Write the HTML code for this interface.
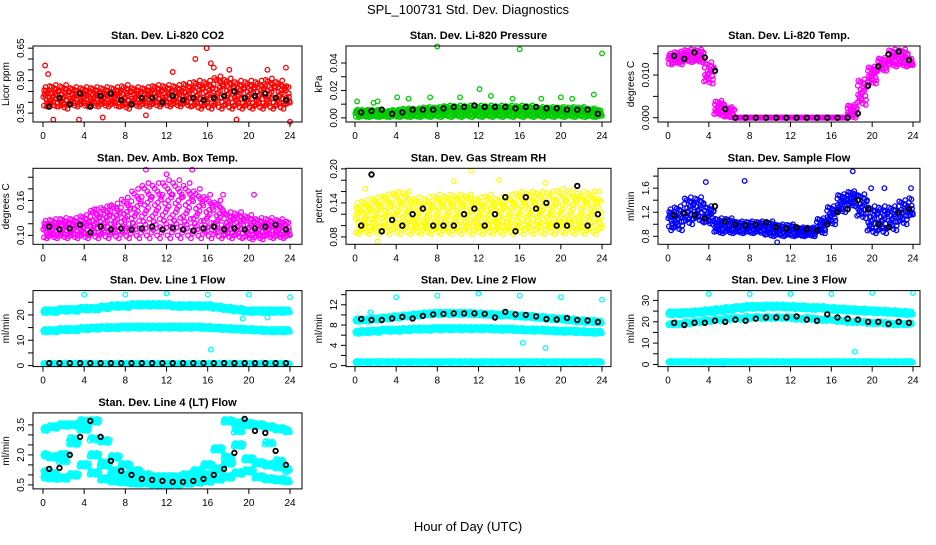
<!DOCTYPE html>
<html><head><meta charset="utf-8">
<style>
html,body{margin:0;padding:0;background:#fff;}
svg text{font-family:"Liberation Sans",sans-serif;}
</style></head>
<body>
<svg id="chart" width="936" height="540" viewBox="0 0 936 540" xmlns="http://www.w3.org/2000/svg">
<rect width="936" height="540" fill="#fff"/>
<text x="468" y="14" text-anchor="middle" font-size="13">SPL_100731  Std. Dev. Diagnostics</text>
<text x="468" y="531" text-anchor="middle" font-size="13">Hour of Day (UTC)</text>
</svg>
<script>
// ---- shared data ----
const hourTicks = [0,4,8,12,16,20,24];
const PX = [0.03,0.53,0.28,0.78,0.15,0.65,0.40,0.90,0.09,0.59,0.34,0.84,0.21,0.71,0.46,0.96,0.12,0.62,0.37,0.87,0.24,0.74,0.49,0.99];
const PF = [0.50,0.10,0.80,0.30,0.65,0.95,0.20,0.45,0.05,0.75,0.35,0.90,0.55,0.15,0.70,0.25,0.85,0.40,0.00,0.60,1.00,0.30,0.75,0.18];

// Panel 1 CO2
const co2Lo = [0.38,0.38,0.37,0.38,0.38,0.38,0.38,0.38,0.37,0.38,0.38,0.38,0.38,0.38,0.38,0.37,0.37,0.37,0.37,0.37,0.37,0.37,0.37,0.37,0.38];
const co2Hi = [0.47,0.48,0.48,0.47,0.47,0.47,0.47,0.47,0.48,0.47,0.47,0.48,0.48,0.48,0.49,0.50,0.50,0.52,0.51,0.50,0.50,0.50,0.51,0.50,0.48];
const co2OutX = [0.2,0.5,14.8,15.9,16.3,16.6,18.1,21.8,23.6,1.0,3.5,24,18.8,10,5.8,12.6];
const co2OutY = [0.57,0.53,0.60,0.65,0.58,0.56,0.55,0.55,0.56,0.32,0.32,0.31,0.32,0.34,0.33,0.54];
const co2Black = [0.38,0.42,0.39,0.44,0.38,0.43,0.44,0.41,0.39,0.42,0.42,0.40,0.43,0.41,0.42,0.41,0.42,0.43,0.45,0.42,0.43,0.44,0.42,0.41];
// Panel 2 Pressure
const prLo = [0.0005,0.0005,0.0005,0.0005,0.0005,0.0005,0.0005,0.0005,0.0005,0.0005,0.0005,0.0005,0.0005,0.0005,0.0005,0.0005,0.0005,0.0005,0.0005,0.0005,0.0005,0.0005,0.0005,0.0005,0.0005];
const prHi = [0.006,0.006,0.006,0.005,0.006,0.007,0.007,0.008,0.008,0.009,0.009,0.009,0.009,0.009,0.009,0.009,0.009,0.009,0.008,0.008,0.008,0.008,0.008,0.007,0.006];
const prOutX = [0.2,1.8,2.2,4.1,5.2,7.3,8.0,10.2,12.1,13.2,15.3,16.0,18.1,20.0,21.1,23.2,24.0];
const prOutY = [0.012,0.011,0.012,0.015,0.014,0.015,0.052,0.015,0.021,0.016,0.014,0.050,0.014,0.015,0.014,0.017,0.047];
const prBlack = [0.004,0.005,0.006,0.003,0.004,0.006,0.006,0.006,0.007,0.008,0.008,0.009,0.008,0.008,0.008,0.007,0.008,0.008,0.007,0.007,0.006,0.006,0.006,0.003];
// Panel 3 Temp
const tLo = [0.0125,0.0125,0.013,0.013,0.008,0.0005,0,0,0,0,0,0,0,0,0,0,0,0,0,0.003,0.008,0.011,0.012,0.012,0.012];
const tHi = [0.015,0.0155,0.016,0.016,0.013,0.004,0.0025,0,0,0,0,0,0,0,0,0,0,0,0.003,0.009,0.012,0.014,0.016,0.016,0.014];
const tBlack = [0.0145,0.0138,0.0153,0.0141,0.0110,0.002,0,0,0,0,0,0,0,0,0,0,0,0,0.001,0.0075,0.012,0.0148,0.0155,0.0135];
// Panel 4 Amb box temp
const abLo = [0.095,0.095,0.095,0.095,0.095,0.095,0.095,0.095,0.095,0.095,0.095,0.095,0.095,0.095,0.095,0.095,0.095,0.095,0.095,0.095,0.093,0.093,0.095,0.095,0.095];
const abHi = [0.125,0.128,0.13,0.13,0.135,0.145,0.15,0.155,0.165,0.18,0.19,0.19,0.195,0.195,0.19,0.18,0.17,0.16,0.14,0.14,0.135,0.13,0.13,0.128,0.125];
const abOutX = [10,14.5,12,20.5,5,6.5,17.5];
const abOutY = [0.213,0.213,0.205,0.17,0.145,0.15,0.17];
const abBlack = [0.115,0.11,0.112,0.118,0.105,0.115,0.11,0.112,0.11,0.112,0.115,0.11,0.113,0.11,0.108,0.112,0.115,0.11,0.112,0.11,0.112,0.115,0.118,0.11];
// Panel 5 RH
const rhLo = [0.085,0.085,0.085,0.085,0.085,0.085,0.085,0.085,0.085,0.085,0.085,0.085,0.085,0.085,0.085,0.085,0.085,0.085,0.085,0.085,0.085,0.085,0.085,0.085,0.085];
const rhHi = [0.14,0.145,0.15,0.155,0.16,0.16,0.15,0.15,0.155,0.155,0.155,0.155,0.15,0.155,0.15,0.155,0.16,0.16,0.16,0.16,0.165,0.165,0.16,0.16,0.15];
const rhOutX = [2.2,11.3,14,18.5,9.6,1.0,23.7];
const rhOutY = [0.072,0.196,0.18,0.175,0.178,0.165,0.16];
const rhBlack = [0.10,0.19,0.09,0.11,0.10,0.12,0.13,0.10,0.10,0.10,0.12,0.13,0.10,0.12,0.15,0.09,0.15,0.13,0.14,0.10,0.10,0.17,0.10,0.12];
// Panel 6 Sample flow
const sfLo = [0.95,0.9,1.0,1.05,1.0,0.85,0.85,0.85,0.85,0.85,0.8,0.8,0.8,0.8,0.8,0.85,1.0,1.2,1.3,1.1,0.85,0.85,0.9,1.0,1.1];
const sfHi = [1.25,1.3,1.45,1.45,1.3,1.1,1.1,1.05,1.05,1.05,1.05,1.0,1.0,0.95,0.95,1.1,1.3,1.5,1.55,1.5,1.3,1.3,1.3,1.4,1.45];
const sfOutX = [3.7,7.5,18.1,23.8,10.7,0.3,19.9,21.2];
const sfOutY = [1.7,1.72,1.88,1.6,0.7,0.9,1.6,1.6];
const sfBlack = [1.15,1.18,1.15,1.1,1.3,1.05,1.0,0.98,1.0,1.03,0.95,0.93,0.95,0.92,0.9,1.0,1.2,1.25,1.4,1.25,1.0,0.95,1.2,1.25];
// Panel 7 Line 1
const l1Top = [21.5,21.5,22,22,22.5,22.5,23,23.5,23.5,24,24,24,24,23.5,23.5,23.5,23.5,23,22.5,22,21.5,21.5,21.5,21.5,21.5];
const l1Mid = [13.8,13.8,14.2,14.2,14.6,14.8,15,15,15.2,15.2,15.2,15.2,15.2,15.2,15.2,15.2,15,14.8,14.6,14.4,14.2,14,13.8,13.8,13.8];
const l1Bot = [0.8,0.8,0.8,0.8,0.8,0.8,0.8,0.8,0.8,0.8,0.8,0.8,0.8,0.8,0.8,0.8,0.8,0.8,0.8,0.8,0.8,0.8,0.8,0.8,0.8];
const l1OutX = [4,8,12,16,20,24,16.3,19.4,21.8,0.2];
const l1OutY = [28,28,28.5,28,28,27,6.3,18.5,19,21.5];
const l1Black = [1.0,1.0,1.0,1.0,1.0,1.0,1.0,1.0,1.0,1.0,1.0,1.0,1.0,1.0,1.0,1.0,1.0,1.0,1.0,1.0,1.0,1.0,1.0,1.0];
// Panel 8 Line 2
const l2Top = [9,9,9.2,9.4,9.6,9.8,10,10.2,10.3,10.3,10.3,10.3,10.2,10.1,10,10,9.8,9.7,9.5,9.3,9.2,9,8.8,8.7,8.6];
const l2Mid = [6.6,6.7,6.8,7,7,7.1,7.2,7.2,7.3,7.3,7.3,7.3,7.3,7.3,7.2,7.2,7.1,7,7,6.9,6.8,6.8,6.7,6.6,6.6];
const l2Bot = [0.7,0.7,0.7,0.7,0.7,0.7,0.7,0.7,0.7,0.7,0.7,0.7,0.7,0.7,0.7,0.7,0.7,0.7,0.7,0.7,0.7,0.7,0.7,0.7,0.7];
const l2OutX = [4,8,12,16,20,24,16.3,18.5,1.5];
const l2OutY = [13.5,13.8,14.2,13.8,13.5,13,4.5,3.5,10.5];
const l2Black = [9.2,9,9,9.3,9.6,9.3,9.8,10.1,10.2,10.3,10.3,10.3,10.2,9.5,10.6,10.1,10,9.7,9.2,9.1,9.4,9,8.9,8.6];
// Panel 9 Line 3
const l3Top = [24,24,24.2,24.5,25,25.5,26,26.5,27,27,27.2,27.2,27,26.8,26.5,26.5,26,25.8,25.5,25.2,25,24.8,24.5,24.2,24];
const l3Mid = [19,19,19.5,20,20.5,21,21.5,21.5,22,22,22,22,22,21.5,21.5,21,21,20.5,20,20,19.5,19.5,19,19,19];
const l3Bot = [1.2,1.2,1.2,1.2,1.2,1.2,1.2,1.2,1.2,1.2,1.2,1.2,1.2,1.2,1.2,1.2,1.2,1.2,1.2,1.2,1.2,1.2,1.2,1.2,1.2];
const l3OutX = [4,8,12,16,20,24,18.3,5.4];
const l3OutY = [33,33,33,33,33.5,33.5,6,0];
const l3Black = [19.5,18.5,19.5,19.5,20.5,20,21,20.5,21.5,22,22,22,22.5,21,20.5,23.5,22,21.5,21,20,20,19,20,19.5];
// Panel 10 Line 4
const l4C1 = [0.9,0.85,0.85,1.0,1.5,1.1,0.8,0.7,0.65,0.6,0.6,0.55,0.55,0.55,0.6,0.65,0.7,0.8,0.9,1.1,1.2,0.9,0.8,0.75,0.7];
const l4C2 = [1.2,1.1,1.7,2.8,3.7,2.8,1.6,1.1,0.85,0.7,0.65,0.6,0.6,0.6,0.65,0.75,0.9,1.2,1.9,3.2,3.6,3.5,2.6,1.7,1.2];
const l4C3 = [3.3,3.4,3.5,3.5,3.3,2.0,1.5,1.2,1.0,0.9,0.85,0.8,0.8,0.8,0.85,0.9,1.0,1.3,1.6,2.5,3.5,3.5,3.4,3.3,3.2];
const l4C4 = [2.0,1.9,2.0,2.6,3.5,3.7,2.7,1.9,1.5,1.2,1.0,0.9,0.9,0.9,1.0,1.2,1.5,2.3,3.7,3.6,1.8,1.6,1.5,1.4,1.3];
const l4Black = [1.3,1.35,2.0,2.9,3.7,2.9,1.7,1.2,1.0,0.8,0.75,0.7,0.65,0.65,0.7,0.8,1.0,1.3,2.1,3.8,3.2,3.1,2.2,1.5];

const svg = document.getElementById('chart');
const NS = 'http://www.w3.org/2000/svg';
function mk(tag, attrs){const e=document.createElementNS(NS,tag);for(const k in attrs)e.setAttribute(k,attrs[k]);return e;}

const cols = [{l:33,r:302,x0:43,x24:290},{l:346,r:611,x0:355,x24:602},{l:658,r:920,x0:668,x24:913}];
function rowB(r){return 122+122.3*r;}

const panels = [
 {title:'Stan. Dev. Li-820 CO2', ylab:'Licor ppm', ylim:[0.309,0.66], ticks:[0.35,0.40,0.45,0.50,0.55,0.60,0.65], labels:['0.35','0.50','0.65'], color:'#ff0000', bands:[{lo:co2Lo,hi:co2Hi,n:24,pass:1}], outX:co2OutX, outY:co2OutY, black:co2Black},
 {title:'Stan. Dev. Li-820 Pressure', ylab:'kPa', ylim:[-0.003,0.0524], ticks:[0,0.01,0.02,0.03,0.04], labels:['0.00','0.02','0.04'], color:'#00cc00', bands:[{lo:prLo,hi:prHi,n:24,pass:1}], outX:prOutX, outY:prOutY, black:prBlack},
 {title:'Stan. Dev. Li-820 Temp.', ylab:'degrees C', ylim:[-0.001,0.0168], ticks:[0,0.005,0.010,0.015], labels:['0.000','0.010'], color:'#ff00ff', bands:[{lo:tLo,hi:tHi,n:24,pass:1}], outX:[], outY:[], black:tBlack},
 {title:'Stan. Dev. Amb. Box Temp.', ylab:'degrees C', ylim:[0.0846,0.2154], ticks:[0.10,0.12,0.14,0.16,0.18,0.20], labels:['0.10','0.16'], color:'#ff00ff', bands:[{lo:abLo,hi:abHi,n:24,pass:1}], outX:abOutX, outY:abOutY, black:abBlack},
 {title:'Stan. Dev. Gas Stream RH', ylab:'percent', ylim:[0.067,0.201], ticks:[0.08,0.10,0.12,0.14,0.16,0.18,0.20], labels:['0.08','0.14','0.20'], color:'#ffff00', bands:[{lo:rhLo,hi:rhHi,n:24,pass:1}], outX:rhOutX, outY:rhOutY, black:rhBlack},
 {title:'Stan. Dev. Sample Flow', ylab:'ml/min', ylim:[0.667,1.93], ticks:[0.8,1.0,1.2,1.4,1.6,1.8], labels:['0.8','1.2','1.6'], color:'#0000ff', bands:[{lo:sfLo,hi:sfHi,n:24,pass:1}], outX:sfOutX, outY:sfOutY, black:sfBlack},
 {title:'Stan. Dev. Line 1 Flow', ylab:'ml/min', ylim:[-0.4,29.6], ticks:[0,5,10,15,20,25], labels:['0','10','20'], color:'#00ffff', bands:[{c:l1Top,w:0.8,n:24,pass:1},{c:l1Mid,w:0.7,n:24,pass:1},{c:l1Bot,w:0.3,n:24,pass:1}], outX:l1OutX, outY:l1OutY, black:l1Black},
 {title:'Stan. Dev. Line 2 Flow', ylab:'ml/min', ylim:[-0.2,14.8], ticks:[0,2,4,6,8,10,12,14], labels:['0','4','8','12'], color:'#00ffff', bands:[{c:l2Top,w:0.35,n:24,pass:1},{c:l2Mid,w:0.35,n:24,pass:1},{c:l2Bot,w:0.2,n:24,pass:1}], outX:l2OutX, outY:l2OutY, black:l2Black},
 {title:'Stan. Dev. Line 3 Flow', ylab:'ml/min', ylim:[-1,34.6], ticks:[0,5,10,15,20,25,30], labels:['0','10','20','30'], color:'#00ffff', bands:[{c:l3Top,w:1.0,n:24,pass:1},{c:l3Mid,w:0.8,n:12,pass:1},{c:l3Bot,w:0.4,n:24,pass:1}], outX:l3OutX, outY:l3OutY, black:l3Black},
 {title:'Stan. Dev. Line 4 (LT) Flow', ylab:'ml/min', ylim:[0.3,4.1], ticks:[0.5,1.0,1.5,2.0,2.5,3.0,3.5], labels:['0.5','2.0','3.5'], color:'#00ffff', bands:[{c:l4C1,w:0.1,n:24,pass:1},{c:l4C2,w:0.1,n:12,pass:1},{c:l4C3,w:0.1,n:24,pass:1},{c:l4C4,w:0.1,n:24,pass:1}], outX:[], outY:[], black:l4Black}
];

panels.forEach((p,i)=>{
  const col=cols[i%3], row=Math.floor(i/3);
  const bot=rowB(row), top=bot-76;
  const xs = h => col.x0 + (col.x24-col.x0)*h/24;
  const ys = v => bot - (v-p.ylim[0])/(p.ylim[1]-p.ylim[0])*(bot-top);
  const g = mk('g',{});
  
  
  svg.appendChild(g);
  const t = mk('text',{x:(col.l+col.r)/2,y:top-7,'text-anchor':'middle','font-size':'11','font-weight':'bold'});
  t.textContent=p.title;
  
  
  g.appendChild(t);
  const pts = mk('g',{fill:'none','stroke-width':'1.3'});
  
  
  g.appendChild(pts);
  function dot(x,y,c,sw){
    const cx=xs(x), cy=ys(y);
    if(cy<top-1||cy>bot+1) return;
    const e=mk('circle',{cx:cx.toFixed(1),cy:cy.toFixed(1),r:'2.3',stroke:c});
    if(sw) e.setAttribute('stroke-width', sw);
    
    
    pts.appendChild(e);
  }
  p.bands.forEach(b=>{
    for(let h=0;h<24;h++){
      for(let ps=0;ps<b.pass;ps++){
        for(let k=0;k<b.n;k++){
          const fx=(PX[k]+ps*0.021)%1, ff=(PF[(k+ps*7)%PF.length]);
          const idx = fx<0.5?h:h+1;
          let lo,hi;
          if(b.c){lo=b.c[idx]-b.w;hi=b.c[idx]+b.w;}else{lo=b.lo[idx];hi=b.hi[idx];}
          dot(h+fx, lo+(hi-lo)*ff, p.color);
        }
      }
    }
  });
  p.outX.forEach((x,k)=>dot(x,p.outY[k],p.color));
  p.black.forEach((v,k)=>dot(k+0.6,v,'#000','1.8'));
  const box=mk('rect',{x:col.l,y:top,width:col.r-col.l,height:bot-top,fill:'none',stroke:'#000','stroke-width':'1'});
  
  
  g.appendChild(box);
  hourTicks.forEach(h=>{
    const x=xs(h);
    const l=mk('line',{x1:x,x2:x,y1:bot,y2:bot+5,stroke:'#000'});
    
    
    g.appendChild(l);
    const tx=mk('text',{x:x,y:bot+17,'text-anchor':'middle','font-size':'10'});
    tx.textContent=String(h);
    
    
    g.appendChild(tx);
  });
  p.ticks.forEach(v=>{
    const y=ys(v);
    const l=mk('line',{x1:col.l-5,x2:col.l,y1:y,y2:y,stroke:'#000'});
    
    
    g.appendChild(l);
  });
  p.labels.forEach(s=>{
    const y=ys(parseFloat(s));
    const tx=mk('text',{x:col.l-9,y:y,'text-anchor':'middle','font-size':'10',transform:`rotate(-90 ${col.l-9} ${y})`});
    tx.textContent=s;
    
    
    g.appendChild(tx);
  });
  const yl=(top+bot)/2, xl=col.l-24;
  const ylab=mk('text',{x:xl,y:yl,'text-anchor':'middle','font-size':'10',transform:`rotate(-90 ${xl} ${yl})`});
  ylab.textContent=p.ylab;
  
  
  g.appendChild(ylab);
});
</script>
</body></html>
